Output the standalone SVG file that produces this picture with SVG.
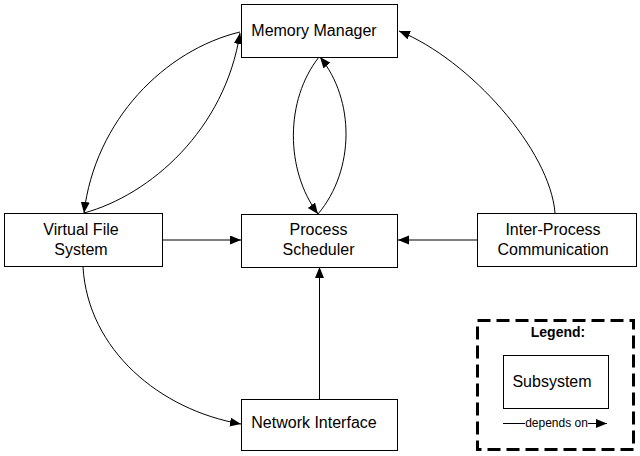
<svg xmlns="http://www.w3.org/2000/svg" width="640" height="456" viewBox="0 0 640 456">
<style>
.box{fill:#fff;stroke:#000;stroke-width:1}
.lbl{font-family:"Liberation Sans",Arial,sans-serif;font-size:16px;fill:#000;text-anchor:middle}
.con{fill:none;stroke:#000;stroke-width:1;marker-end:url(#arr)}
</style>
<defs>
<marker id="arr" markerUnits="userSpaceOnUse" markerWidth="12" markerHeight="10" refX="11" refY="4.5" orient="auto">
<path d="M0,0 L11,4.5 L0,9 z" fill="#000"/>
</marker>
</defs>
<rect width="640" height="456" fill="#fff"/>
<g id="connectors">
<path class="con" d="M163,240 L241,240"/>
<path class="con" d="M477,240 L398,240"/>
<path class="con" d="M319.5,399 L319.5,267"/>
<path class="con" d="M555,213 C550,150 470,60 399,31"/>
<path class="con" d="M240,32 C165,50 95,120 84,213"/>
<path class="con" d="M84,213 C150,195 225,130 240,33"/>
<path class="con" d="M319,57 C285,100 285,170 318,214"/>
<path class="con" d="M318,214 C355,170 355,100 320,57"/>
<path class="con" d="M83,267 C88,350 160,410 241,424"/>
</g>
<g id="memory-manager">
<rect class="box" x="241.5" y="4.5" width="156" height="53"/>
<text class="lbl" x="314" y="36">Memory Manager</text>
</g>
<g id="virtual-file-system">
<rect class="box" x="4.5" y="213.5" width="158" height="53"/>
<text class="lbl" x="81" y="235">Virtual File</text>
<text class="lbl" x="81" y="255">System</text>
</g>
<g id="process-scheduler">
<rect class="box" x="241.5" y="214.5" width="156" height="53"/>
<text class="lbl" x="318.5" y="235">Process</text>
<text class="lbl" x="318.5" y="255">Scheduler</text>
</g>
<g id="inter-process-communication">
<rect class="box" x="477.5" y="213.5" width="159" height="53"/>
<text class="lbl" x="553" y="235">Inter-Process</text>
<text class="lbl" x="553" y="255">Communication</text>
</g>
<g id="network-interface">
<rect class="box" x="241.5" y="399.5" width="156" height="51"/>
<text class="lbl" x="314" y="428">Network Interface</text>
</g>
<g id="legend">
<rect x="477.5" y="320.5" width="156" height="129" fill="#fff" stroke="#000" stroke-width="3" stroke-dasharray="13,6"/>
<text x="558" y="337" font-family="'Liberation Sans',Arial,sans-serif" font-size="14" font-weight="bold" text-anchor="middle">Legend:</text>
<rect class="box" x="503.5" y="355.5" width="105" height="53"/>
<text class="lbl" x="552" y="387">Subsystem</text>
<line x1="503" y1="423.5" x2="525" y2="423.5" stroke="#000" stroke-width="1"/>
<text x="556.5" y="427" font-family="'Liberation Sans',Arial,sans-serif" font-size="12" text-anchor="middle">depends on</text>
<path class="con" d="M588,423.5 L607,423.5"/>
</g>
</svg>
